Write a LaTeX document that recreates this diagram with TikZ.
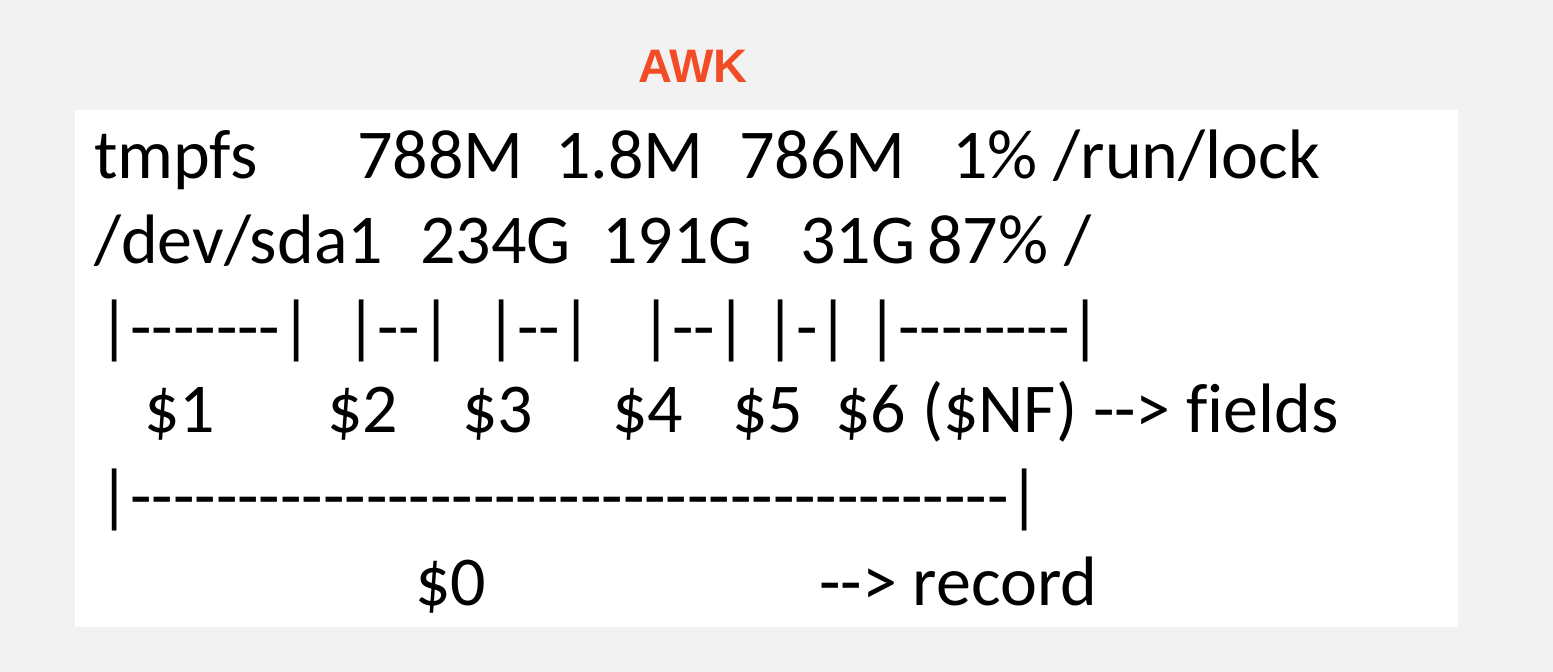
\documentclass[tikz,border=0pt]{standalone}
\usepackage{fontspec}
\newfontfamily\dffont{Carlito}[Ligatures={NoCommon}]
\newfontfamily\titlefont{Liberation Sans}
\definecolor{Cawkred}{HTML}{F24C27}
\definecolor{Cpagegrey}{HTML}{F2F2F2}
\tikzset{
  dftext/.style={anchor=base west,inner sep=0pt,font=\dffont\fontsize{70}{84}\selectfont},
  awktitle/.style={anchor=base west,inner sep=0pt,text=Cawkred,font=\titlefont\bfseries\fontsize{47}{56}\selectfont}
}

\begin{document}
\begin{tikzpicture}[x=1pt,y=-1pt]
	\useasboundingbox (0,0) rectangle (1553,672);
	\fill[Cpagegrey] (0,0) rectangle (1553,672);
	\fill[white] (75,110) rectangle (1458,627);
	\node[awktitle] (title) at (638,82) {AWK};
	% df output
	\node[dftext] (fsname) at (94,178) {tmpfs};
	\node[dftext] (fssize) at (357,178) {788M};
	\node[dftext] (fsused) at (555,178) {1.8M};
	\node[dftext] (fsavail) at (739,178) {786M};
	\node[dftext] (fsmount) at (952,178) {1\% /run/lock};
	\node[dftext] (sdname) at (94,263) {/dev/sda1};
	\node[dftext] (sdsize) at (420,263) {234G};
	\node[dftext] (sdused) at (602,263) {191G};
	\node[dftext] (sdavail) at (800,263) {31G};
	\node[dftext] (sdmount) at (927,263) {87\% /};
	% field spans
	\node[dftext] (span1) at (98,350) {|-------|};
	\node[dftext] (span2) at (345,350) {|--|};
	\node[dftext] (span3) at (485,350) {|--|};
	\node[dftext] (span4) at (640,350) {|--|};
	\node[dftext] (span5) at (764,350) {|-|};
	\node[dftext] (span6) at (866,350) {|--------|};
	\node[dftext] (f1) at (144,432) {\$1};
	\node[dftext] (f2) at (327,432) {\$2};
	\node[dftext] (f3) at (462,432) {\$3};
	\node[dftext] (f4) at (612,432) {\$4};
	\node[dftext] (f5) at (732,432) {\$5};
	\node[dftext] (f6) at (835,432) {\$6 (\$NF) --> fields};
	% whole record
	\node[dftext] (span0) at (98,519) {|-----------------------------------------|};
	\node[dftext] (f0) at (415,605) {\$0};
	\node[dftext] (rec) at (819,605) {--> record};
\end{tikzpicture}
\end{document}
